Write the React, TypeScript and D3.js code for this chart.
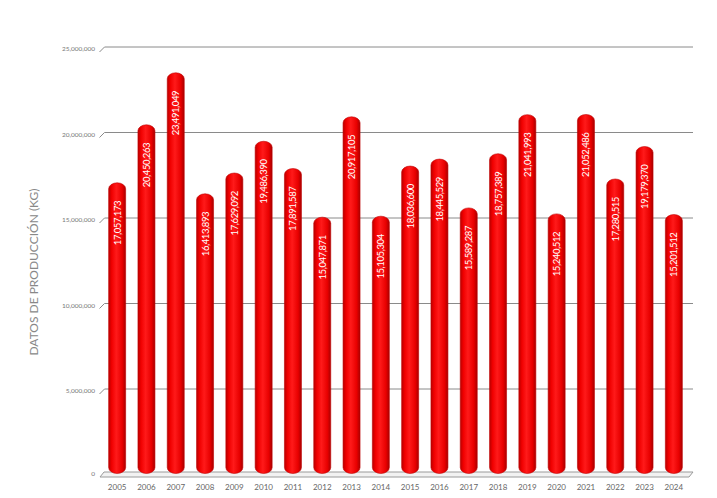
import React from "react";
import * as d3 from "d3";

const years = ["2005","2006","2007","2008","2009","2010","2011","2012","2013","2014","2015","2016","2017","2018","2019","2020","2021","2022","2023","2024"];
const production = [17057173,20450263,23491049,16413893,17629092,19486390,17891587,15047871,20917105,15105304,18036600,18445529,15589287,18757389,21041993,15240512,21052486,17280515,19179370,15201512];
const yTicks = [0,5000000,10000000,15000000,20000000,25000000];
const yTitle = "DATOS DE PRODUCCIÓN (KG)";

const W = 717, H = 498;

export default function App() {
  const x = d3.scaleBand<string>().domain(years).range([102.5, 688.5]).padding(0);
  const y = d3.scaleLinear().domain([0, 25000000]).range([474.5, 47]);
  const bw = x.bandwidth() * 0.58;
  const fmt = d3.format(",");
  const dx = 4, dy = 5;
  return (
    <svg width={W} height={H} style={{ position: "absolute", left: 0, top: 0, fontFamily: "Lato, 'Open Sans', sans-serif" }}>
      <defs>
        <linearGradient id="cyl" x1="0" x2="1" y1="0" y2="0">
          <stop offset="0%" stopColor="#b80000" />
          <stop offset="18%" stopColor="#f00000" />
          <stop offset="45%" stopColor="#ff1a1a" />
          <stop offset="80%" stopColor="#e80000" />
          <stop offset="100%" stopColor="#a80000" />
        </linearGradient>
      </defs>
      <rect width={W} height={H} fill="#fff" />
      {/* floor */}
      <polygon points={`${100},${y(0) + 2.5} ${100 + dx},${y(0) - 2.5} ${693},${y(0) - 2.5} ${689},${y(0) + 2.5}`} fill="#f2f2f2" stroke="#9a9a9a" strokeWidth={1} />
      {yTicks.filter(t => t > 0).map(t => (
        <g key={t}>
          <line x1={99.5} y1={y(t) + dy} x2={99.5 + dx + 1} y2={y(t)} stroke="#8a8a8a" strokeWidth={1} />
          <line x1={104.5} y1={y(t)} x2={693} y2={y(t)} stroke="#8a8a8a" strokeWidth={1} />
        </g>
      ))}
      {yTicks.map(t => (
        <text key={"l" + t} x={95} y={y(t) + (t === 0 ? 1 : 4)} textAnchor="end" fontSize={6.5} fill="#777">{fmt(t)}</text>
      ))}
      {years.map((yr, i) => {
        const cx = (x(yr) as number) + x.bandwidth() / 2;
        const top = y(production[i]);
        const bottom = y(0) - 1;
        return (
          <g key={yr}>
            <rect x={cx - bw / 2} y={top} width={bw} height={bottom - top} rx={bw / 2} ry={6} fill="url(#cyl)" stroke="#c00000" strokeWidth={0.6} />
            <text transform={`translate(${cx},${top + 18}) rotate(-90)`} textAnchor="end" dominantBaseline="central" fontSize={9.5} fill="#fff" letterSpacing={-0.4}>{fmt(production[i])}</text>
            <text x={cx} y={490} textAnchor="middle" fontSize={8} fill="#666">{yr}</text>
          </g>
        );
      })}
      <text transform={`translate(38,272) rotate(-90)`} textAnchor="middle" fontSize={12} fill="#888">{yTitle}</text>
    </svg>
  );
}
